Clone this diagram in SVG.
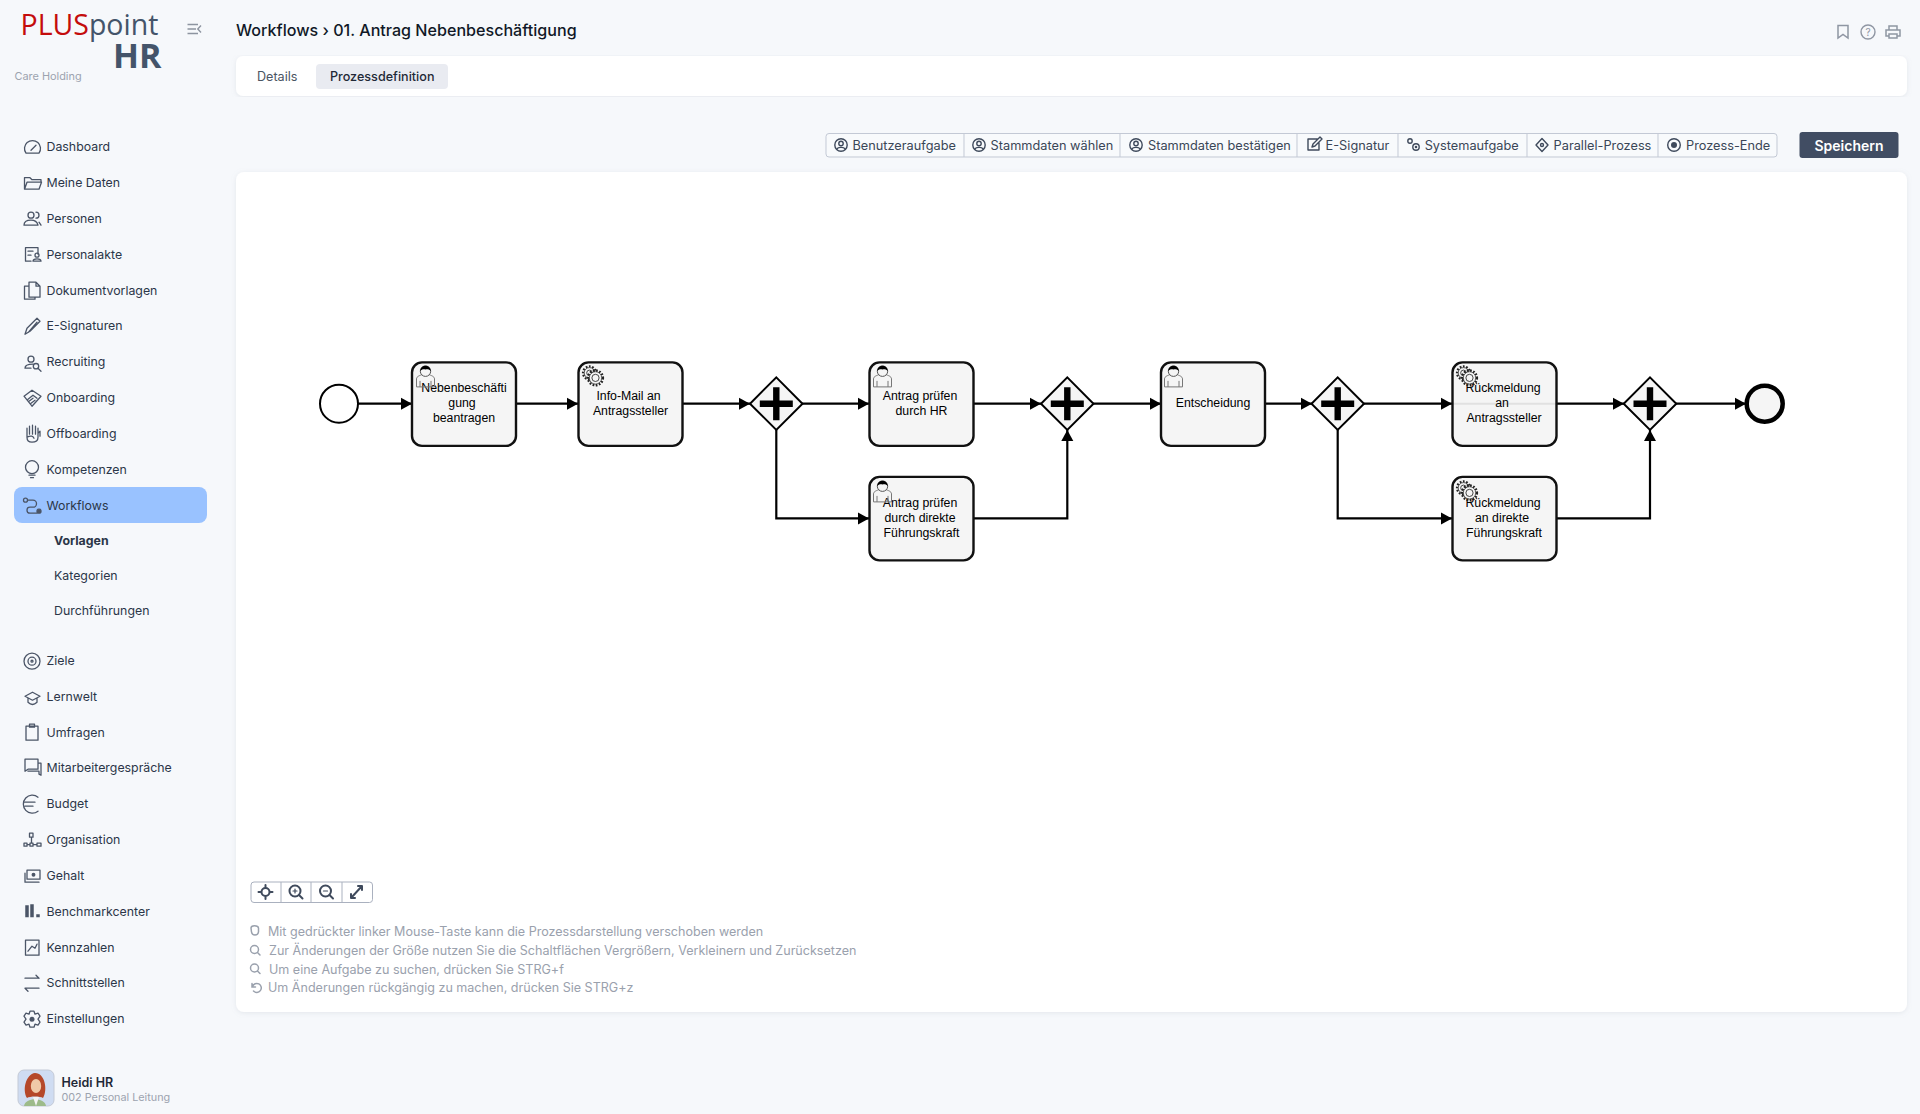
<svg xmlns="http://www.w3.org/2000/svg" width="1920" height="1114" viewBox="0 0 1920 1114">
<style>
text{font-family:Inter,"Liberation Sans",sans-serif}
.nav{font-size:12.35px;fill:#2b3648}
.tb{font-size:12.75px;fill:#3a4657}
.help{font-size:12.55px;fill:#9aa1ad}
.ic{fill:none;stroke:#4b5567;stroke-width:1.3;stroke-linecap:round;stroke-linejoin:round}
.tic{fill:none;stroke:#3f4a5c;stroke-width:1.4;stroke-linecap:round;stroke-linejoin:round}
.hic{fill:none;stroke:#9aa1ad;stroke-width:1.5;stroke-linecap:round}
.ctl{fill:none;stroke:#3f4a5c;stroke-width:2;stroke-linecap:round;stroke-linejoin:round}
.task{fill:#f5f5f5;stroke:#111;stroke-width:2.4}
.gw{fill:#f5f5f5;stroke:#000;stroke-width:2}
.lbl{font-family:"Liberation Sans",Arial,sans-serif;font-size:12.3px;fill:#000;text-anchor:middle}
.flow{fill:none;stroke:#000;stroke-width:2.2;marker-end:url(#arrow)}
.uo{fill:none;stroke:#777;stroke-width:1}
.ge{fill:none;stroke:#222;stroke-width:2.4;stroke-dasharray:1.7 1.5}
.gr{fill:#f5f5f5;stroke:#333;stroke-width:.8}
.gi{fill:#f5f5f5;stroke:#333;stroke-width:.9}
</style>
<defs>
<marker id="arrow" markerUnits="userSpaceOnUse" markerWidth="12" markerHeight="13" refX="11" refY="6.500" orient="auto"><path d="M0 .5L11 6.500L0 12.500Z" fill="#000"/></marker>
<filter id="sh" x="-2%" y="-2%" width="104%" height="104%"><feDropShadow dx="0" dy="1" stdDeviation="2.500" flood-color="#8a94a6" flood-opacity=".18"/></filter>
<g id="plus"><path d="M-16.500-3.200H-3.200V-16.500H3.200V-3.200H16.500V3.200H3.200V16.500H-3.200V3.200H-16.500Z" fill="#000"/></g>
<g id="user"><path class="uo" d="M.5 21.500V13.500C.5 11 4 10 6.500 9H12.500C15 10 18.500 11 18.500 13.500V21.500Z"/><path class="uo" d="M4 21.500V15.500M15 21.500V15.500"/><circle cx="9.500" cy="5.800" r="5.200" fill="#f5f5f5" stroke="#555"/><path d="M4.300 5.800C4.300 2 7 .3 9.500 .3C12 .3 14.700 2 14.700 5.800C13.500 3.800 11 3.600 9.500 4.200C7.800 3.600 5.500 3.900 4.300 5.800Z" fill="#000"/></g>
<g id="gears"><circle cx="7.500" cy="7.500" r="6.400" class="ge"/><circle cx="7.500" cy="7.500" r="5.300" class="gr"/><circle cx="7.500" cy="7.500" r="2.800" class="gi"/><circle cx="13.500" cy="12.500" r="7.400" class="ge"/><circle cx="13.500" cy="12.500" r="6.200" class="gr"/><circle cx="13.500" cy="12.500" r="3.600" class="gi"/></g>
<g id="usr-c"><circle cx="7" cy="7" r="6.200" class="tic"/><circle cx="7" cy="5.500" r="2.200" class="tic"/><path class="tic" d="M3 11C4 8.800 10 8.800 11 11"/></g>
</defs>
<rect width="1920" height="1114" fill="#f6f8fb"/>

<g id="logo">
<text x="20.500" y="35" font-size="28.500" style="font-family:'Open Sans','Noto Sans',sans-serif" fill="#c40c0c">PLUS<tspan fill="#44546a">point</tspan></text>
<text x="113" y="68" font-size="34" font-weight="700" style="font-family:'Open Sans','Noto Sans',sans-serif" fill="#44546a">HR</text>
<text x="14.500" y="80" font-size="10.900" fill="#9ca3af">Care Holding</text>
<path d="M187.500 24.500H198M187.500 29H196M187.500 33.500H198M201 25.500L197.800 29L201 32.500" fill="none" stroke="#8d94a0" stroke-width="1.400"/>
</g>

<g id="sidebar">
<rect x="14" y="487" width="193" height="36" rx="8" fill="#99c2ff"/>
<g transform="translate(0 .2)">
<text class="nav" x="46.500" y="151.200">Dashboard</text>
<text class="nav" x="46.500" y="187.200">Meine Daten</text>
<text class="nav" x="46.500" y="223.200">Personen</text>
<text class="nav" x="46.500" y="259.200">Personalakte</text>
<text class="nav" x="46.500" y="295.200">Dokumentvorlagen</text>
<text class="nav" x="46.500" y="330.200">E-Signaturen</text>
<text class="nav" x="46.500" y="366.200">Recruiting</text>
<text class="nav" x="46.500" y="402.200">Onboarding</text>
<text class="nav" x="46.500" y="438.200">Offboarding</text>
<text class="nav" x="46.500" y="474.200">Kompetenzen</text>
<text class="nav" x="46.500" y="510.200">Workflows</text>
<text class="nav" x="54" y="545.200" font-weight="700" fill="#1f2937">Vorlagen</text>
<text class="nav" x="54" y="580.200">Kategorien</text>
<text class="nav" x="54" y="615.200">Durchführungen</text>
<text class="nav" x="46.500" y="665.200">Ziele</text>
<text class="nav" x="46.500" y="701.200">Lernwelt</text>
<text class="nav" x="46.500" y="737.200">Umfragen</text>
<text class="nav" x="46.500" y="772.200">Mitarbeitergespräche</text>
<text class="nav" x="46.500" y="808.200">Budget</text>
<text class="nav" x="46.500" y="844.200">Organisation</text>
<text class="nav" x="46.500" y="880.200">Gehalt</text>
<text class="nav" x="46.500" y="916.200">Benchmarkcenter</text>
<text class="nav" x="46.500" y="952.200">Kennzahlen</text>
<text class="nav" x="46.500" y="987.200">Schnittstellen</text>
<text class="nav" x="46.500" y="1023.200">Einstellungen</text>

<g class="ic">
<path d="M26 153A8 8 0 1 1 39 153Z"/><path d="M31 150L36 145"/>
<path d="M24.500 189V177.500H30L32 179.500H41V182M24.500 189H39L41.500 182H27L24.500 189"/>
<circle cx="31" cy="215" r="3"/><path d="M24 225C24 221 27 220 31 220S37 221 38 225ZM36 212A3 3 0 0 1 36 218M39 222L41 225"/>
<path d="M38 254V247.500H25.500V261H31M28 251H33M28 255H31"/><circle cx="37" cy="255" r="2"/><path d="M33 261C33 258 41 258 41 261Z"/>
<path d="M29 282H36L40 286V297H29ZM36 282V286H40M29 286H24.500V299H35V297"/>
<path d="M25 334L27 328L37 318L40 321L30 331ZM28.500 332L37 322"/>
<circle cx="31" cy="359" r="3"/><path d="M25 368C25 365 29 364 33 364M25 368H31"/><circle cx="36" cy="366" r="2.700"/><path d="M38 368L41 371"/>
<path d="M24 396L32 390L41 396L32 406ZM28 399L33 395L37 398M29 401L33 398M31 403L35 400"/>
<path d="M27 428V437C27 441 29 442 32 442S38 441 38 437V428M29.500 426V434M32.500 425V434M35.500 426V434M38 433L40 431V436M27 437C31 435 33 436 34 438"/>
<circle cx="32" cy="467" r="6.500"/><path d="M29 475H35M30.500 477.500H33.500"/>
<path d="M28 500H33A3 3 0 0 1 33 507H30A3 3 0 0 0 30 513H37"/><circle cx="25.500" cy="500" r="2"/><circle cx="39" cy="511" r="2" fill="#4b5567"/>
<circle cx="32" cy="661" r="8"/><circle cx="32" cy="661" r="4"/><circle cx="32" cy="661" r="1"/>
<path d="M25 696L32.500 692L40 696L32.500 700ZM28 698V702C31 705 34 705 37 702V698"/>
<path d="M26 726H38V740H26ZM29.500 724H34.500V727H29.500Z"/>
<path d="M25 759H38V769H28L25 771ZM28 771H39V774L41 775V763H38"/>
<path d="M38 797A9 9 0 1 0 38 811M25 802H35M25 806H33"/>
<path d="M29.500 833H33V837H29.500ZM24 843H27V846H24ZM30 843H33V846H30ZM37 843H41V846H37ZM27 844.500H30M33 844.500H37M31.500 837V843"/>
<path d="M27 870H40V879H27ZM25 873V882H39"/><circle cx="33.500" cy="874.500" r="1.300" fill="#4b5567"/>
<path d="M27 905V917M32 904V917M38 914V917" stroke-width="3.500" stroke-linecap="butt"/>
<path d="M25.500 940H39V955H25.500ZM28 951L32 946L35 948L37 944"/>
<path d="M25 978H39M36 975L39 978M39 988H25M28 991L25 988"/>
<path d="M30 1011H34L35 1014L38 1013L40 1016L38 1019L40 1022L38 1025L35 1024L34 1027H30L29 1024L26 1025L24 1022L26 1019L24 1016L26 1013L29 1014Z"/>
</g><circle cx="32" cy="1019" r="2.500" fill="#4b5567"/>
</g>
</g>

<g id="profile">
<rect x="18" y="1070" width="36" height="36" rx="6" fill="#cfdcf2" stroke="#c4cad6"/>
<path d="M24 1106C25 1097 45 1097 46 1106Z" fill="#9dbb8a"/>
<path d="M27 1098C22 1090 26 1074 35 1073C45 1073 48 1090 43 1098C40 1096 30 1096 27 1098Z" fill="#b5482a"/>
<ellipse cx="36" cy="1086" rx="5.200" ry="7" fill="#f0c9a8"/>
<path d="M33 1097L36 1106L39 1097Z" fill="#f4f4f4"/>
<text x="61.500" y="1086.500" font-size="12.500" font-weight="600" fill="#1f2937">Heidi HR</text>
<text x="61.500" y="1100.500" font-size="10.800" fill="#9ca3af">002 Personal Leitung</text>
</g>

<g id="header">
<text x="236" y="36" font-size="16.100" font-weight="500" fill="#111827">Workflows › 01. Antrag Nebenbeschäftigung</text>
<path d="M1838 25.500H1848V38L1843 34.500L1838 38Z" fill="none" stroke="#8f96a3" stroke-width="1.500"/>
<circle cx="1868" cy="32" r="7" fill="none" stroke="#8f96a3" stroke-width="1.400"/>
<text x="1868" y="35.500" font-size="10" fill="#8f96a3" text-anchor="middle">?</text>
<path d="M1889 30V26H1897V30M1889 36H1886V30H1900V36H1897M1889 34H1897V38H1889Z" fill="none" stroke="#8f96a3" stroke-width="1.500"/>
<rect x="236" y="56" width="1671" height="40" rx="7" fill="#fff" filter="url(#sh)"/>
<rect x="316" y="64" width="132" height="25" rx="4" fill="#e9ebf1"/>
<text x="257" y="81" font-size="12.600" fill="#4b5563">Details</text>
<text x="330" y="81" font-size="12.600" font-weight="500" fill="#1f2937">Prozessdefinition</text>
</g>

<g id="toolbar">
<rect x="826" y="133.500" width="951" height="23.500" rx="3" fill="#f8fafc" stroke="#c3c9d5"/>
<path d="M964 134V157M1120 134V157M1297 134V157M1398 134V157M1527 134V157M1658 134V157" stroke="#c3c9d5"/>
<use href="#usr-c" x="834" y="138"/><use href="#usr-c" x="972" y="138"/><use href="#usr-c" x="1129" y="138"/>
<g class="tic">
<path d="M1318 139H1308V150H1319V143M1312 147L1313 144L1320 137L1322 139L1315 146Z"/>
<circle cx="1410" cy="141" r="2.200"/><circle cx="1416" cy="147" r="3.200"/><circle cx="1416" cy="147" r=".6"/>
<path d="M1542 138.500L1548 145L1542 151.500L1536 145Z"/><circle cx="1542" cy="145" r="1.500"/>
<circle cx="1674" cy="145" r="6.300"/>
</g><circle cx="1674" cy="145" r="3" fill="#3f4a5c"/>
<text class="tb" x="852.500" y="150.300">Benutzeraufgabe</text>
<text class="tb" x="990.600" y="150.300">Stammdaten wählen</text>
<text class="tb" x="1148" y="150.300">Stammdaten bestätigen</text>
<text class="tb" x="1325.600" y="150.300">E-Signatur</text>
<text class="tb" x="1424.700" y="150.300">Systemaufgabe</text>
<text class="tb" x="1553.600" y="150.300">Parallel-Prozess</text>
<text class="tb" x="1686" y="150.300">Prozess-Ende</text>
<rect x="1799.500" y="132" width="99" height="26" rx="3" fill="#414d63"/>
<text x="1849" y="150.500" font-size="14" font-weight="600" fill="#fff" text-anchor="middle">Speichern</text>
</g>

<rect id="canvas" x="236" y="172" width="1671" height="840" rx="8" fill="#fff" filter="url(#sh)"/>

<g id="connectors" transform="translate(0 .4)">
<path class="flow" d="M358 403.300H412"/>
<path class="flow" d="M516 403.300H578"/>
<path class="flow" d="M683 403.300H750"/>
<path class="flow" d="M802 403.300H869"/>
<path class="flow" d="M776.300 429V518H869"/>
<path class="flow" d="M974 403.300H1041"/>
<path class="flow" d="M974 518H1067.300V429.500"/>
<path class="flow" d="M1093 403.300H1161"/>
<path class="flow" d="M1265 403.300H1312"/>
<path class="flow" d="M1364 403.300H1452" stroke-width="2.600"/>
<path class="flow" d="M1337.700 429V518H1452"/>
<path class="flow" d="M1557 403.300H1624" stroke-width="2.600"/>
<path class="flow" d="M1557 518H1650V429.500"/>
<path class="flow" d="M1676 403.300H1746"/>
</g>

<g id="nodes" transform="translate(0 .4)">
<g id="start"><circle cx="339" cy="403.300" r="19" fill="#fff" stroke="#000" stroke-width="2"/></g>
<g id="task1"><rect class="task" x="412" y="362" width="104" height="83.500" rx="10"/><text class="lbl" x="464" y="392">Nebenbeschäfti</text><text class="lbl" x="462" y="407">gung</text><text class="lbl" x="464" y="422">beantragen</text><use href="#user" x="416" y="365"/></g>
<g id="task2"><rect class="task" x="578.500" y="362" width="104" height="83.500" rx="10"/><text class="lbl" x="628.500" y="400">Info-Mail an</text><text class="lbl" x="630.500" y="415">Antragssteller</text><use href="#gears" x="582" y="365"/></g>
<g id="gw1"><path class="gw" d="M776.300 377L802.500 403.300L776.300 429.500L750 403.300Z"/><use href="#plus" x="776.300" y="403.300"/></g>
<g id="task3"><rect class="task" x="869.500" y="362" width="104" height="83.500" rx="10"/><text class="lbl" x="920" y="400">Antrag prüfen</text><text class="lbl" x="921.500" y="415">durch HR</text><use href="#user" x="873" y="365"/></g>
<g id="task4"><rect class="task" x="869.500" y="476.500" width="104" height="83.500" rx="10"/><text class="lbl" x="920" y="507">Antrag prüfen</text><text class="lbl" x="920" y="522">durch direkte</text><text class="lbl" x="921.500" y="537">Führungskraft</text><use href="#user" x="873" y="480"/></g>
<g id="gw2"><path class="gw" d="M1067.300 377L1093.500 403.300L1067.300 429.500L1041 403.300Z"/><use href="#plus" x="1067.300" y="403.300"/></g>
<g id="task5"><rect class="task" x="1161" y="362" width="104" height="83.500" rx="10"/><text class="lbl" x="1213" y="407">Entscheidung</text><use href="#user" x="1164" y="365"/></g>
<g id="gw3"><path class="gw" d="M1337.700 377L1364 403.300L1337.700 429.500L1311.500 403.300Z"/><use href="#plus" x="1337.700" y="403.300"/></g>
<g id="task6"><rect class="task" x="1452.500" y="362" width="104" height="83.500" rx="10"/><path d="M1453 403.300H1556" stroke="#000" stroke-opacity=".08" stroke-width="2"/><text class="lbl" x="1503" y="392">Rückmeldung</text><text class="lbl" x="1502" y="407">an</text><text class="lbl" x="1504" y="422">Antragssteller</text><use href="#gears" x="1456" y="365"/></g>
<g id="task7"><rect class="task" x="1452.500" y="476.500" width="104" height="83.500" rx="10"/><text class="lbl" x="1503" y="507">Rückmeldung</text><text class="lbl" x="1502" y="522">an direkte</text><text class="lbl" x="1504" y="537">Führungskraft</text><use href="#gears" x="1456" y="480"/></g>
<g id="gw4"><path class="gw" d="M1650 377L1676.300 403.300L1650 429.500L1623.700 403.300Z"/><use href="#plus" x="1650" y="403.300"/></g>
<g id="end"><circle cx="1764.700" cy="403.300" r="18" fill="#f5f5f5" stroke="#000" stroke-width="4.500"/></g>
</g>

<g id="controls" transform="translate(0 1)">
<rect x="251" y="881" width="121.500" height="20.500" rx="3" fill="#fff" stroke="#aab1bf"/>
<path d="M281 881V901.500M311 881V901.500M342 881V901.500" stroke="#aab1bf"/>
<g class="ctl"><circle cx="265.500" cy="891" r="4"/><path d="M265.500 884V886M265.500 896V898M258.500 891H260.500M270.500 891H272.500"/>
<circle cx="295" cy="890" r="5.500"/><path d="M299 894L302.500 897.500"/><path d="M293 890H297M295 888V892" stroke-width="1.200"/>
<circle cx="325.500" cy="890" r="5.500"/><path d="M329.500 894L333 897.500"/><path d="M323.500 890H327.500" stroke-width="1.200"/>
<path d="M351 897L362 885M358 885H362V889M351 893V897H355"/></g>
</g>

<g id="help">
<path class="hic" d="M251 928C251 925 258 925 258.500 928V932C258 936 252 936 251.500 932Z"/>
<circle class="hic" cx="254.500" cy="949.500" r="4"/><path class="hic" d="M257.500 952.500L260 955"/>
<circle class="hic" cx="254.500" cy="968" r="4"/><path class="hic" d="M257.500 971L260 973.500"/>
<path class="hic" d="M252 983.500V987H255.500M252.500 986.500A4.500 4.500 0 1 1 253.500 991"/>
<text class="help" x="268" y="935.500">Mit gedrückter linker Mouse-Taste kann die Prozessdarstellung verschoben werden</text>
<text class="help" x="269" y="954.500">Zur Änderungen der Größe nutzen Sie die Schaltflächen Vergrößern, Verkleinern und Zurücksetzen</text>
<text class="help" x="269" y="973.500">Um eine Aufgabe zu suchen, drücken Sie STRG+f</text>
<text class="help" x="268" y="991.500">Um Änderungen rückgängig zu machen, drücken Sie STRG+z</text>
</g>
</svg>
